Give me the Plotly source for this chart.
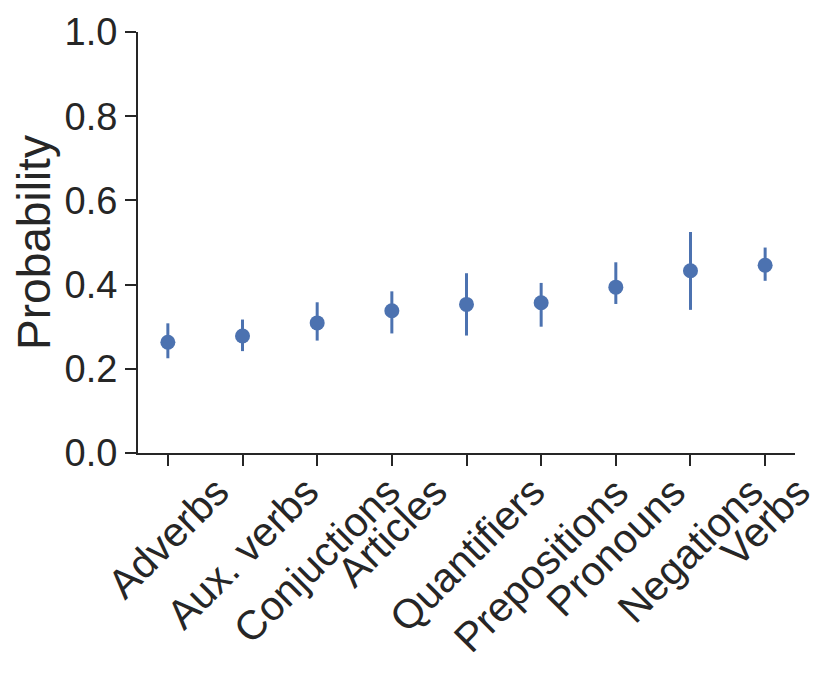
import plotly.graph_objects as go

categories = ["Adverbs", "Aux. verbs", "Conjuctions", "Articles", "Quantifiers",
              "Prepositions", "Pronouns", "Negations", "Verbs"]
means = [0.263, 0.278, 0.309, 0.338, 0.353, 0.357, 0.394, 0.433, 0.446]
ci_low = [0.225, 0.242, 0.267, 0.284, 0.279, 0.300, 0.354, 0.340, 0.409]
ci_high = [0.308, 0.317, 0.358, 0.384, 0.427, 0.404, 0.453, 0.525, 0.488]
y_ticks = [0.0, 0.2, 0.4, 0.6, 0.8, 1.0]

blue = "#4c72b0"
dark = "#262626"
font = "Liberation Sans, Arial, sans-serif"

idx = list(range(len(categories)))
err_plus = [h - m for h, m in zip(ci_high, means)]
err_minus = [m - l for m, l in zip(means, ci_low)]

fig = go.Figure()
fig.add_trace(go.Scatter(
    x=idx, y=means, mode="markers",
    marker=dict(color=blue, size=15),
    error_y=dict(type="data", array=err_plus, arrayminus=err_minus,
                 color=blue, thickness=3, width=0),
    showlegend=False,
))

for i, c in zip(idx, categories):
    fig.add_annotation(x=i, y=-0.03, xref="x", yref="paper", text=c,
                       showarrow=False, textangle=-45, xanchor="center",
                       yanchor="top", font=dict(family=font, size=41, color=dark))

fig.update_layout(
    width=822, height=665,
    margin=dict(l=130, r=35, t=24, b=220, autoexpand=False),
    paper_bgcolor="white", plot_bgcolor="white",
    font=dict(family=font, size=38, color=dark),
)
fig.update_xaxes(range=[-0.4, 8.4], tickvals=idx, ticktext=[""] * len(idx),
                 showticklabels=False, showline=True, linecolor=dark, linewidth=2,
                 ticks="outside", ticklen=11, tickwidth=2, tickcolor=dark,
                 showgrid=False, zeroline=False, automargin=False)
fig.update_yaxes(range=[0, 1], tickvals=y_ticks,
                 ticktext=[f"{v:.1f}" for v in y_ticks],
                 showline=True, linecolor=dark, linewidth=2,
                 ticks="outside", ticklen=11, tickwidth=2, tickcolor=dark,
                 showgrid=False, zeroline=False, automargin=False,
                 title=dict(text="Probability", font=dict(size=46), standoff=16),
                 tickfont=dict(size=38))

fig.write_html("out.html")
